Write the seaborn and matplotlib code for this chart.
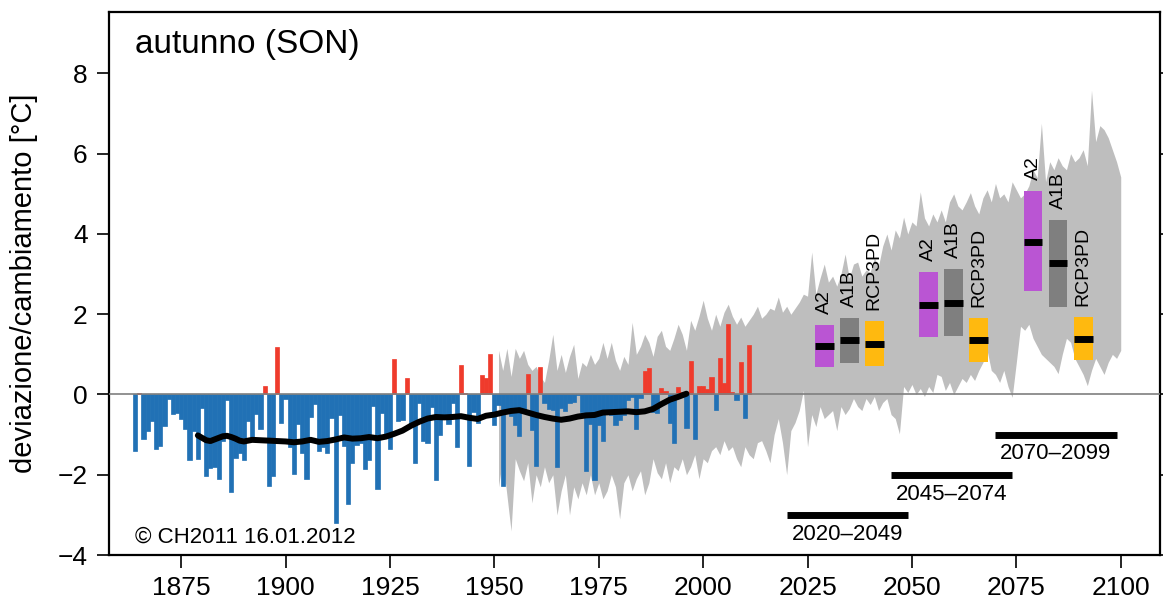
import numpy as np
import pandas as pd
import matplotlib
matplotlib.use("Agg")
import matplotlib.pyplot as plt
import seaborn as sns

# ---- observed autumn (SON) temperature deviations, 1864-2011 ----
obs_years = list(range(1864, 2012))
obs_values = [
    -1.40, 0.03, -1.10, -0.90, -0.66, -1.35, -1.28, -0.78, -0.12, -0.48,   # 1864-1873
    -0.46, -0.61, -0.87, -1.62, -0.91, -1.60, -0.34, -2.02, -1.82, -1.80,  # 1874-1883
    -2.10, -1.17, -0.14, -2.44, -1.57, -1.46, -1.62, -0.66, -1.06, -0.48,  # 1884-1893
    -0.86, 0.22, -2.27, -2.02, 1.19, -0.70, -0.11, -1.30, -1.97, -0.74,    # 1894-1903
    -1.45, -2.10, -0.57, -0.23, -1.40, -1.32, -1.46, -0.58, -3.19, -0.51,  # 1904-1913
    -1.28, -2.72, -1.70, -1.26, -1.21, -1.85, -1.62, -0.28, -2.36, -0.46,  # 1914-1923
    -1.00, -1.36, 0.88, -0.67, -0.64, 0.40, -0.73, -1.70, -0.22, -1.16,    # 1924-1933
    -1.21, -0.32, -2.12, -1.01, -0.54, -0.73, -0.22, -1.31, 0.73, 0.03,    # 1934-1943
    -1.78, -0.43, -0.70, 0.48, 0.42, 1.00, -0.75, -0.27, -2.27, -0.35,     # 1944-1953
    -0.54, -0.75, -1.03, -0.39, 0.51, -0.89, -1.78, 0.68, -0.22, -0.35,    # 1954-1963
    -0.39, -1.80, -0.33, -0.42, -0.22, -0.18, -0.02, -0.43, -1.90, -0.74,  # 1964-1973
    -2.12, -0.75, -1.16, -0.43, -0.52, -0.76, -0.64, -0.52, -0.14, -0.07,  # 1974-1983
    -0.85, -0.08, 0.58, 0.67, -0.43, -0.45, 0.16, 0.08, -0.70, -1.21,      # 1984-1993
    0.19, 0.05, -0.83, 0.83, -1.11, 0.22, 0.22, 0.13, 0.44, -0.38,         # 1994-2003
    0.92, 0.28, 1.76, 0.05, -0.13, 0.81, -0.58, 1.24,                      # 2004-2011
]

# ---- 30-year smoothed observations ----
smooth_years = [1879, 1880, 1881, 1882, 1883, 1884, 1885, 1886, 1887, 1888,
                1889, 1890, 1892, 1894, 1896, 1898, 1900, 1902, 1904, 1906,
                1908, 1910, 1912, 1914, 1916, 1918, 1920, 1922, 1924, 1926,
                1928, 1930, 1932, 1934, 1936, 1938, 1940, 1942, 1944, 1946,
                1948, 1950, 1952, 1954, 1956, 1958, 1960, 1962, 1964, 1966,
                1968, 1970, 1972, 1974, 1976, 1978, 1980, 1982, 1984, 1986,
                1988, 1990, 1992, 1994, 1996]
smooth_values = [-1.02, -1.08, -1.14, -1.16, -1.12, -1.08, -1.04, -1.03, -1.06, -1.10,
                 -1.15, -1.17, -1.13, -1.14, -1.15, -1.16, -1.17, -1.19, -1.17, -1.13,
                 -1.18, -1.16, -1.12, -1.07, -1.10, -1.09, -1.06, -1.09, -1.05, -0.98,
                 -0.90, -0.78, -0.68, -0.60, -0.56, -0.57, -0.56, -0.54, -0.58, -0.61,
                 -0.53, -0.50, -0.45, -0.41, -0.39, -0.45, -0.51, -0.56, -0.60, -0.63,
                 -0.60, -0.55, -0.52, -0.51, -0.45, -0.44, -0.43, -0.42, -0.44, -0.42,
                 -0.36, -0.24, -0.13, -0.06, 0.02]

# ---- model spread (grey envelope), 1951-2100 ----
band_years = list(range(1951, 2101))
band_upper = [
    1.10, 0.60, 1.15, 0.45, 1.15, 0.90, 1.10, 0.75, 0.60, 0.70,   # 1951-1960
    0.45, 0.30, 0.85, 1.50, 0.60, 1.00, 0.55, 0.95, 1.25, 0.40,   # 1961-1970
    0.80, 0.70, 1.00, 0.75, 0.90, 1.30, 0.90, 1.30, 0.85, 0.60,   # 1971-1980
    0.95, 0.75, 1.80, 1.00, 1.20, 1.50, 1.30, 0.95, 1.45, 1.60,   # 1981-1990
    1.20, 1.10, 1.40, 1.75, 1.50, 1.10, 1.85, 1.60, 1.95, 2.35,   # 1991-2000
    1.90, 1.60, 2.00, 1.70, 2.05, 2.25, 1.95, 1.75, 1.93, 1.70,   # 2001-2010
    1.85, 2.00, 2.20, 1.90, 2.00, 2.15, 2.10, 2.43, 2.05, 2.20,   # 2011-2020
    2.00, 2.15, 2.30, 2.50, 2.45, 3.55, 2.50, 2.90, 3.25, 2.80,   # 2021-2030
    2.95, 2.70, 3.00, 3.50, 2.90, 3.25, 3.30, 2.95, 3.10, 3.05,   # 2031-2040
    3.40, 3.20, 3.70, 4.00, 3.60, 4.10, 3.90, 4.42, 4.00, 4.30,   # 2041-2050
    4.20, 5.05, 4.40, 4.20, 4.50, 4.30, 4.60, 4.30, 4.80, 5.00,   # 2051-2060
    4.70, 4.60, 4.80, 5.03, 4.70, 4.50, 4.90, 5.10, 4.80, 5.26,   # 2061-2070
    4.90, 5.00, 4.80, 5.30, 5.10, 4.90, 5.00, 5.20, 5.60, 5.40,   # 2071-2080
    6.76, 5.30, 5.80, 5.60, 5.90, 5.70, 5.60, 6.00, 5.80, 5.90,   # 2081-2090
    6.10, 5.70, 7.58, 6.30, 6.70, 6.60, 6.40, 6.10, 5.80, 5.42,   # 2091-2100
]
band_lower = [
    -2.30, -1.60, -2.50, -3.40, -1.60, -1.90, -2.15, -1.70, -2.70, -2.00,  # 1951-1960
    -2.30, -1.80, -2.20, -2.00, -3.00, -2.40, -2.00, -3.00, -2.30, -2.60,  # 1961-1970
    -2.20, -2.50, -2.00, -2.50, -2.20, -2.60, -2.40, -2.00, -2.30, -3.10,  # 1971-1980
    -2.20, -2.00, -2.40, -2.10, -1.90, -2.50, -2.20, -1.60, -1.95, -2.10,  # 1981-1990
    -1.70, -2.20, -1.80, -1.90, -1.60, -2.00, -1.80, -1.50, -2.10, -1.60,  # 1991-2000
    -1.70, -1.40, -1.30, -1.50, -1.15, -1.40, -1.30, -1.60, -1.80, -1.30,  # 2001-2010
    -1.50, -1.60, -1.20, -1.15, -1.40, -1.70, -1.00, -0.60, -1.20, -2.00,  # 2011-2020
    -0.90, -0.70, -0.40, 0.10, -1.30, -0.50, -0.80, -0.30, -0.60, -0.50,   # 2021-2030
    -0.40, -0.90, -0.30, -0.50, -0.35, -0.10, -0.30, -0.40, -0.10, -0.25,  # 2031-2040
    -0.05, -0.40, -0.20, -0.10, -0.50, -0.60, -0.98, 0.20, 0.05, 0.25,     # 2041-2050
    0.00, 0.15, -0.05, 0.20, 0.05, 0.50, 0.45, 0.10, 0.30, 0.00,           # 2051-2060
    0.20, 0.40, 0.30, 0.50, 0.35, 0.60, 0.80, 1.10, 0.60, 0.50,            # 2061-2070
    0.30, 0.60, 0.20, -0.07, 0.80, 1.70, 1.60, 1.75, 1.40, 1.20,           # 2071-2080
    1.00, 0.90, 0.80, 0.70, 0.52, 1.00, 1.40, 1.30, 0.90, 0.70,            # 2081-2090
    0.50, 0.22, 0.60, 0.90, 0.70, 0.50, 0.80, 1.00, 0.90, 1.10,            # 2091-2100
]

# ---- scenario projections per 30-year period ----
periods = ["2020\u20132049", "2045\u20132074", "2070\u20132099"]
period_start = [2020, 2045, 2070]
period_end = [2049, 2074, 2099]
period_bar_level = [-3.0, -2.0, -1.0]
scenarios = ["A2", "A1B", "RCP3PD"]
scenario_colors = ["#BA55D3", "#7F7F7F", "#FFB90F"]
scen_low = [[0.68, 0.78, 0.72], [1.43, 1.45, 0.80], [2.58, 2.18, 0.86]]
scen_mid = [[1.20, 1.35, 1.26], [2.24, 2.29, 1.36], [3.81, 3.27, 1.39]]
scen_high = [[1.72, 1.90, 1.82], [3.04, 3.12, 1.90], [5.06, 4.34, 1.92]]

# ---- styling ----
BLUE = "#2171B5"
RED = "#EF3B2C"
GREY_BAND = "#BEBEBE"

sns.set_theme(style="ticks")
plt.rcParams["font.family"] = ["Liberation Sans", "DejaVu Sans"]
plt.rcParams["text.color"] = "black"
plt.rcParams["axes.labelcolor"] = "black"
plt.rcParams["axes.unicode_minus"] = True

fig = plt.figure(figsize=(11.63, 6.05), dpi=100)
ax = fig.add_axes([0.0933, 0.0826, 0.9041, 0.8975])

# model envelope
ax.fill_between(band_years, band_lower, band_upper, color=GREY_BAND,
                linewidth=0, zorder=1)

# annual deviations: one full-year-wide bar per year, red above / blue below 0
obs = pd.DataFrame({"year": obs_years, "value": obs_values})
bar_colors = np.where(obs["value"] >= 0, RED, BLUE)
ax.bar(obs["year"], obs["value"], width=1.0, color=bar_colors,
       edgecolor=bar_colors, linewidth=0.5, zorder=2)

ax.axhline(0, color="#7F7F7F", linewidth=1.2, zorder=3)

# smoothed curve
sns.lineplot(x=smooth_years, y=smooth_values, color="black", linewidth=4.3,
             ax=ax, zorder=4, solid_capstyle="round")

# scenario boxes
offsets = [-6, 0, 6]
box_w = 4.5
for p in range(len(periods)):
    mid = (period_start[p] + period_end[p] + 1) / 2
    for s in range(len(scenarios)):
        xc = mid + offsets[s]
        lo, md, hi = scen_low[p][s], scen_mid[p][s], scen_high[p][s]
        ax.bar(xc, hi - lo, bottom=lo, width=box_w, color=scenario_colors[s],
               linewidth=0, zorder=5)
        ax.hlines(md, xc - box_w / 2, xc + box_w / 2, color="black",
                  linewidth=5, zorder=6)
        ax.text(xc, hi + 0.28, scenarios[s], rotation=90, ha="center",
                va="bottom", fontsize=14, color="black", zorder=6)
    # period bar and label
    ax.hlines(period_bar_level[p], period_start[p], period_end[p],
              color="black", linewidth=5, zorder=6)
    ax.text((period_start[p] + period_end[p]) / 2, period_bar_level[p] - 0.22,
            periods[p], ha="center", va="top", fontsize=16, zorder=6)

# axes
ax.set_xlim(1857.6, 2109.4)
ax.set_ylim(-4, 9.53)
ax.set_xticks(np.arange(1875, 2101, 25))
ax.set_yticks(np.arange(-4, 9, 2))
ax.tick_params(axis="both", labelsize=19, length=9, width=1.2,
               direction="out", colors="black", pad=6)
ax.tick_params(axis="y", right=True)
ax.set_xlabel("")
ax.set_ylabel("deviazione/cambiamento [°C]", fontsize=21)
ax.yaxis.set_label_coords(-0.067, 0.5)
for sp in ax.spines.values():
    sp.set_visible(True)
    sp.set_linewidth(1.6)
    sp.set_color("black")

ax.text(0.025, 0.94, "autunno (SON)", transform=ax.transAxes, ha="left",
        va="center", fontsize=24)
ax.text(0.025, 0.033, "\u00a9 CH2011 16.01.2012", transform=ax.transAxes,
        ha="left", va="center", fontsize=16)

fig.savefig("out.png", dpi=100)
